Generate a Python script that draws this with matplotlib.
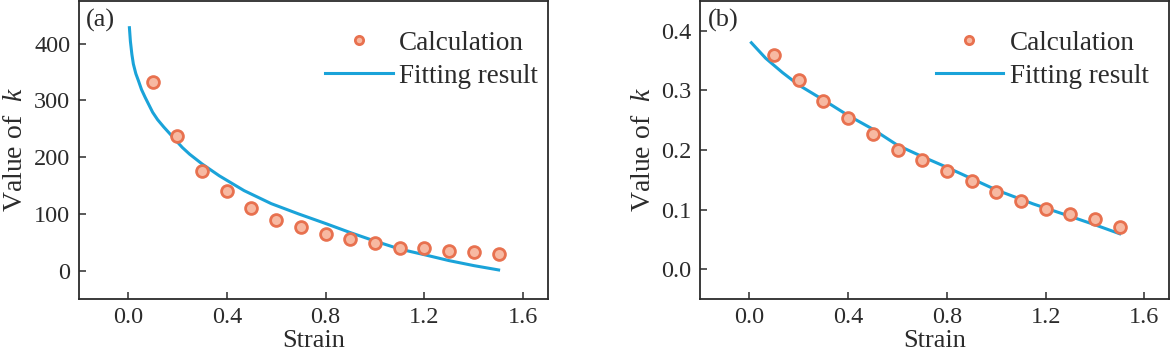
import numpy as np
import matplotlib
matplotlib.use("Agg")
import matplotlib.pyplot as plt

plt.rcParams['font.family'] = ['Liberation Serif', 'DejaVu Serif']
plt.rcParams['mathtext.fontset'] = 'custom'
plt.rcParams['mathtext.it'] = 'Liberation Serif:italic'
plt.rcParams['mathtext.rm'] = 'Liberation Serif'

# strain values of the calculated points
strain = [0.1, 0.2, 0.3, 0.4, 0.5, 0.6, 0.7, 0.8, 0.9, 1.0, 1.1, 1.2, 1.3, 1.4, 1.5]

# (a) calculated k and fitted curve
k_calc_a = [333, 237, 175, 141, 111, 90, 76, 64.5, 56, 49, 40.5, 39, 34, 32, 29.5]
fit_x_a = [0.006, 0.01, 0.016, 0.022, 0.032, 0.043, 0.055, 0.07, 0.085, 0.1, 0.12,
           0.145, 0.17, 0.195, 0.22, 0.25, 0.3, 0.37, 0.47, 0.58, 0.69, 0.8,
           0.9, 1.0, 1.1, 1.2, 1.3, 1.4, 1.5]
fit_y_a = [428, 404, 381, 364, 347, 334, 319, 305, 292, 279, 266,
           253, 241, 229, 217, 205, 188, 167, 141, 118, 100, 83,
           67, 52, 38, 28, 17.6, 8.8, 1.2]

# (b) calculated k and fitted curve
k_calc_b = [0.359, 0.3175, 0.282, 0.254, 0.227, 0.200, 0.183, 0.164, 0.148,
            0.129, 0.114, 0.101, 0.093, 0.0836, 0.0713]
fit_x_b = [0.008, 0.066, 0.134, 0.2, 0.3, 0.4, 0.5, 0.6, 0.7, 0.8, 0.9, 1.0,
           1.15, 1.29, 1.4, 1.5]
fit_y_b = [0.380, 0.354, 0.330, 0.309, 0.284, 0.258, 0.235, 0.208, 0.189, 0.171,
           0.152, 0.133, 0.1095, 0.090, 0.0745, 0.0595]

line_col = '#1aa3d9'
mk_face = '#f7b9a2'
mk_edge = '#e8714f'
txt_col = '#2b2b2b'

fig = plt.figure(figsize=(11.7, 3.56), dpi=100)
ax1 = fig.add_axes([0.0671, 0.1601, 0.4013, 0.837])
ax2 = fig.add_axes([0.5983, 0.1601, 0.4009, 0.837])

panels = [
    (ax1, k_calc_a, fit_x_a, fit_y_a, (-50, 475), [0, 100, 200, 300, 400], '(a)', 0.979, '%d'),
    (ax2, k_calc_b, fit_x_b, fit_y_b, (-0.05, 0.45), [0.0, 0.1, 0.2, 0.3, 0.4], '(b)', 0.957, '%.1f'),
]

for ax, calc, fx, fy, ylim, yticks, tag, legx, fmt in panels:
    ax.plot(strain, calc, 'o', ms=8.5, mfc=mk_face, mec=mk_edge, mew=2,
            linestyle='none', label='Calculation', zorder=3)
    ax.plot(fx, fy, color=line_col, lw=2.2, label='Fitting result', zorder=2)
    ax.set_xlim(-0.2, 1.7)
    ax.set_ylim(*ylim)
    ax.set_xticks([0.0, 0.4, 0.8, 1.2, 1.6])
    ax.set_xticklabels(['0.0', '0.4', '0.8', '1.2', '1.6'])
    ax.set_yticks(yticks)
    ax.set_yticklabels([fmt % v for v in yticks])
    ax.tick_params(direction='in', length=5, width=1.1, labelsize=17.5,
                   colors=txt_col)
    ax.tick_params(axis='x', pad=6)
    ax.tick_params(axis='y', pad=6)
    for s in ax.spines.values():
        s.set_linewidth(1.3)
        s.set_color(txt_col)
    ax.set_xlabel('Strain', fontsize=19, color=txt_col, labelpad=1)
    ax.set_ylabel('Value of  $k$', fontsize=20, color=txt_col, labelpad=4)
    ax.text(0.016, 0.972, tag, transform=ax.transAxes, ha='left', va='top',
            fontsize=19, color=txt_col)
    ax.legend(loc='upper right', bbox_to_anchor=(legx, 0.9), frameon=False,
              fontsize=19.5, handlelength=2.5, handletextpad=0.25,
              labelspacing=0.3, borderpad=0, borderaxespad=0,
              markerscale=0.7, labelcolor=txt_col)

fig.savefig('out.png', dpi=100)
